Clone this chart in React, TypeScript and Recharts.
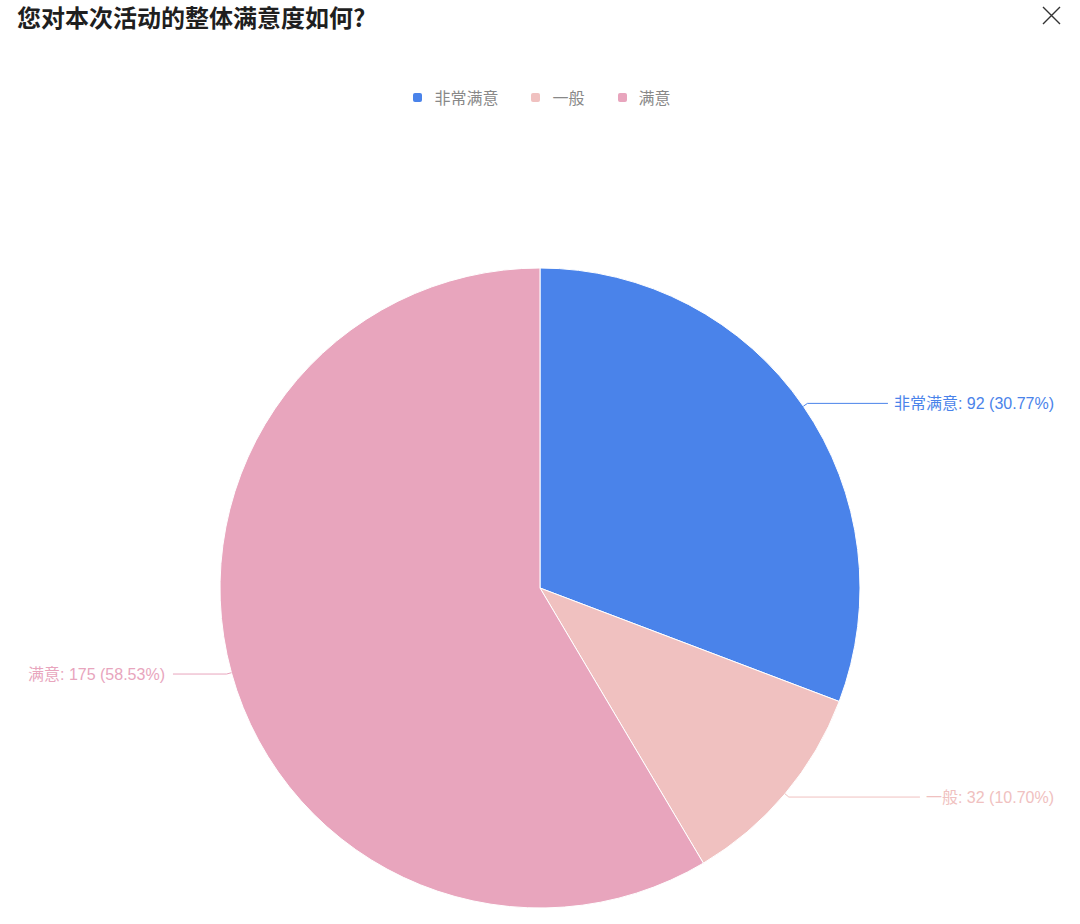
import { PieChart, Pie, Cell } from 'recharts'

const categories = ['非常满意', '一般', '满意']
const counts = [92, 32, 175]
const colors = ['#4a83ea', '#f0c1c0', '#e8a5bd']
const title = '您对本次活动的整体满意度如何?'

const data = categories.map((name, i) => ({ name, value: counts[i] }))

const FONT = '"Noto Sans CJK SC", "Noto Sans", sans-serif'
const LABEL_FONT = '"Liberation Sans", "Noto Sans CJK SC", sans-serif'
const LABEL_SIZE = 16
const RIGHT_EDGE = 1054
const LEFT_EDGE = 28
const RADIAN = Math.PI / 180

let ctx: CanvasRenderingContext2D | null = null
function textWidth(s: string) {
  if (!ctx) ctx = document.createElement('canvas').getContext('2d')
  if (!ctx) return s.length * 8
  ctx.font = `${LABEL_SIZE}px ${LABEL_FONT}`
  return ctx.measureText(s).width
}

const PieLabel = (props: any) => {
  const { cx, cy, midAngle, outerRadius, percent, name, value, index } = props
  const color = colors[index]
  const cos = Math.cos(-midAngle * RADIAN)
  const sin = Math.sin(-midAngle * RADIAN)
  const sx = cx + outerRadius * cos
  const sy = cy + outerRadius * sin
  const mx = cx + (outerRadius + 5) * cos
  const my = cy + (outerRadius + 5) * sin
  const text = `${name}: ${value} (${(percent * 100).toFixed(2)}%)`
  const w = textWidth(text)
  const right = cos >= 0
  const tx = right ? RIGHT_EDGE : LEFT_EDGE
  const ex = right ? RIGHT_EDGE - w - 6 : LEFT_EDGE + w + 8
  return (
    <g>
      <polyline points={`${sx},${sy} ${mx},${my} ${ex},${my}`} fill="none" stroke={color} strokeWidth={1} />
      <text x={tx} y={my} textAnchor={right ? 'end' : 'start'} dominantBaseline="central"
        fill={color} fontSize={LABEL_SIZE} fontFamily={LABEL_FONT}>{text}</text>
    </g>
  )
}

export default function App() {
  return (
    <div style={{ position: 'absolute', left: 0, top: 0, width: 1080, height: 924, background: '#fff' }}>
      <div style={{ position: 'absolute', left: 17, top: 2, fontFamily: FONT, fontSize: 24, fontWeight: 700, color: '#1f1f1f', lineHeight: '30px' }}>
        {title}
      </div>
      <svg style={{ position: 'absolute', left: 1042, top: 6 }} width={20} height={20}>
        <path d="M1 1 L18 18 M18 1 L1 18" stroke="#333" strokeWidth={1.4} fill="none" />
      </svg>
      <div style={{ position: 'absolute', top: 86, left: 0, width: 1080, display: 'flex', justifyContent: 'center', gap: 33, fontFamily: FONT, fontSize: 16, color: '#888', lineHeight: '22px', paddingLeft: 2 }}>
        {categories.map((c, i) => (
          <div key={c} style={{ display: 'flex', alignItems: 'center', gap: 12 }}>
            <span style={{ width: 9, height: 9, borderRadius: 2, background: colors[i], display: 'inline-block' }} />
            <span>{c}</span>
          </div>
        ))}
      </div>
      <PieChart width={1080} height={924} margin={{ top: 0, right: 0, bottom: 0, left: 0 }}
        style={{ position: 'absolute', left: 0, top: 0 }}>
        <Pie data={data} dataKey="value" nameKey="name" cx={540} cy={588} outerRadius={320}
          startAngle={90} endAngle={-270} stroke="#fff" strokeWidth={1}
          label={PieLabel} labelLine={false} isAnimationActive={false}>
          {data.map((d, i) => <Cell key={d.name} fill={colors[i]} />)}
        </Pie>
      </PieChart>
    </div>
  )
}
